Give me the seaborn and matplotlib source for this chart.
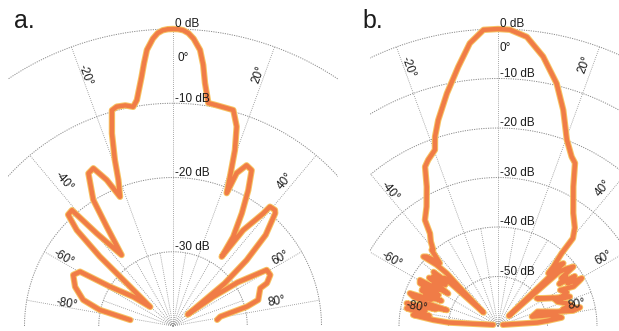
import numpy as np
import pandas as pd
import matplotlib
matplotlib.use("Agg")
import matplotlib.pyplot as plt
import seaborn as sns
from matplotlib.transforms import Bbox, TransformedBbox

# ─────────────────────────────────────────────
# DATA: (angle in degrees, level in dB)
# ─────────────────────────────────────────────
# panel a, from -80 deg round to +80 deg
a_left_lobes = [(-82, -34.2), (-77.6, -29.9), (-73.8, -27.4), (-68.2, -25.8), (-62.9, -24.9),
                (-59.7, -25.5), (-58, -30.0), (-53.6, -33.4), (-50, -36.0), (-47.3, -31.5),
                (-46.5, -26.4), (-45.1, -21.7), (-43.3, -19.4), (-41.1, -19.3), (-39.5, -23.8),
                (-35.9, -28.2), (-33.7, -23.9), (-32.3, -19.9), (-29, -16.5), (-26.8, -16.2),
                (-24.4, -18.4), (-22.3, -21.2)]
a_main_lobe = [(-20.5, -19.0), (-19.3, -16.3), (-17.6, -12.8), (-15.8, -9.8), (-14.4, -9.5),
               (-12.2, -9.6), (-10.3, -10.0), (-9.1, -9.2), (-7.2, -6.2), (-6.3, -4.4),
               (-5.4, -2.65), (-4.0, -1.2), (-3.0, -0.5), (-2.0, -0.15), (-1.0, -0.02), (0, 0),
               (1.0, -0.02), (2.0, -0.15), (3.0, -0.5), (4.1, -1.2), (5.6, -2.65),
               (6.6, -4.6), (7.5, -7.0), (9.0, -9.6), (11.2, -9.7), (15.6, -9.8),
               (17.7, -11.8), (19.4, -14.9), (20.9, -18.5), (22.0, -20.7)]
a_right_lobes = [(22.6, -17.7), (24.6, -16.2), (26.8, -16.5), (29.0, -19.1), (31.4, -22.2),
                 (34.0, -25.5), (35.1, -28.6), (36.2, -24.0), (38.7, -20.6), (39.1, -19.3),
                 (41.3, -19.2), (42.2, -19.5), (45.5, -22.5), (48.2, -26.7), (50.5, -31.0),
                 (52.0, -37.5), (54.0, -33.3), (56.0, -29.5), (59.1, -25.3), (62.3, -25.2),
                 (65.5, -26.1), (66.6, -27.2), (73.0, -28.0), (75.3, -29.7), (78.8, -33.5),
                 (82.0, -34.0)]

# panel b
b_left_noise = [(-76, -59), (-86, -50), (-84.7, -46.9), (-83.2, -44.1), (-82.6, -42.7),
                (-81.5, -46), (-80.5, -44), (-79, -41.2), (-78, -45), (-77.5, -43),
                (-76, -41), (-75, -47), (-74.5, -45), (-72.7, -49.2), (-72.3, -44.9),
                (-70.9, -41.9), (-69.6, -41), (-68.5, -45.5), (-67.5, -44), (-66, -47.5),
                (-65, -43), (-64.5, -45), (-63.5, -43), (-62.5, -46.5), (-61.3, -42),
                (-59.5, -41.7), (-58.5, -46), (-58, -44.5), (-57, -48), (-55.9, -45.9),
                (-55, -43), (-54, -45.5), (-53, -43.5), (-52, -46.5), (-51, -44),
                (-50, -43), (-49, -46.5), (-48, -45.5), (-47, -56), (-45, -50),
                (-44.2, -45.2), (-45.1, -42.5), (-47.1, -39.4), (-45.8, -39.9), (-42.8, -42.7)]
b_main_lobe = [(-41.1, -39.6), (-40.4, -39.8), (-38.5, -38.2), (-36.3, -36.8), (-34.6, -34.0),
               (-30.9, -31.9), (-27.1, -28.4), (-24.6, -24.6), (-22.8, -23.6), (-19.7, -22.2),
               (-18.4, -19.7), (-16.2, -16.7), (-12.4, -11.9), (-8.7, -7.0), (-5.7, -2.6),
               (-2.8, -0.1), (0, 0), (2.3, -0.1), (5.7, -1.3), (9.5, -4.8), (13.6, -9.6),
               (16.8, -14.4), (20.3, -19.9), (23.5, -22.7), (25.3, -23.6), (28.4, -28.0),
               (33.7, -32.6), (38, -34.8), (40.5, -36.7), (41.2, -40.5)]
b_right_noise = [(43, -43.6), (43.7, -45.3), (45, -42.5), (46.2, -41.7), (47, -57),
                 (48.5, -43.5), (50, -42), (51.8, -40.6), (53, -44), (54, -43),
                 (55.5, -45), (57, -41.5), (58.5, -43.5), (60.3, -40.5), (61, -41.2),
                 (62.4, -42.8), (60, -45.5), (64, -44.5), (66, -46.5), (67.8, -44.3),
                 (62, -48), (54.4, -50.4), (63, -47.5), (68, -47), (71.7, -45.4),
                 (74, -44.5), (75.5, -46.5), (77.2, -43), (78.5, -44.5), (76.3, -47.8),
                 (70, -51.5), (74.6, -52.9), (78, -49.5), (80, -48), (82.5, -47),
                 (84, -50), (85, -52), (76, -59)]

a_rings = [0, -10, -20, -30]
b_rings = [0, -10, -20, -30, -40, -50]
spoke_deg = list(range(-80, 90, 10))
a_spoke_reach = {0: 0, 20: 0, 40: -10, 60: -20, 80: -20}
b_spoke_reach = {0: 0, 20: 0, 40: -20, 60: -30, 80: -40}
angle_ticks = [0, -20, 20, -40, 40, -60, 60, -80, 80]

# where the angle labels sit (theta deg, dB)
a_tick_pos = [(2.1, -3.9), (-19.3, -4.2), (18.8, -4.3), (-37.2, -15.6), (37.8, -15.4),
              (-58.3, -22.6), (57.7, -22.9), (-78, -25.4), (76.8, -25.7)]
b_tick_pos = [(1.4, -3.9), (-19.1, -4.6), (18.4, -4.4), (-38.8, -25.2), (37.4, -25.0),
              (-58.2, -34.7), (57.3, -34.7), (-76.6, -43.1), (75, -43.6)]

# ─────────────────────────────────────────────
# STYLE
# ─────────────────────────────────────────────
W, H = 619, 331
sns.set_theme(style="white")
plt.rcParams["font.family"] = ["Liberation Sans", "DejaVu Sans"]
GRID = "#8a8a8a"
TXT = "#1c1c1c"
HALO = "#f7c463"
CORE = "#f07444"

fig = plt.figure(figsize=(W / 100, H / 100), dpi=100)


def place(ax, cx, cy, R, rmin):
    # pole at pixel (cx, cy), 0 dB ring at radius R pixels
    ax.set_position([(cx - R) / W, (cy - R) / H, 2 * R / W, 2 * R / H])
    for _ in range(2):
        fig.canvas.draw()
        c = ax.transData.transform((0, rmin))
        top = ax.transData.transform((0, 0))
        s = R / (top[1] - c[1])
        pos = ax.get_position()
        fx = (c[0] / W - pos.x0) / pos.width
        fy = (c[1] / H - pos.y0) / pos.height
        w, h = pos.width * s, pos.height * s
        ax.set_position([cx / W - fx * w, cy / H - fy * h, w, h])


def panel(segments, rings, reach, tick_pos, rmin, cx, clip_x, letter, letter_x):
    ax = fig.add_axes([0, 0, 1, 1], projection="polar")
    ax.set_theta_zero_location("N")
    ax.set_theta_direction(-1)
    ax.set_thetamin(-90)
    ax.set_thetamax(90)

    # grid rings and spokes
    arc = np.radians(np.linspace(-90, 90, 361))
    for r in rings:
        ax.plot(arc, np.full_like(arc, r), color=GRID, lw=0.7, ls=(0, (1.2, 1.2)))
    inner = rings[-1] if rmin == -40 else rings[-2]
    for d in spoke_deg:
        r_end = reach.get(abs(d), inner)
        ax.plot([np.radians(d)] * 2, [rmin, r_end], color=GRID, lw=0.6, ls=(0, (1, 1.5)))

    pts = [p for seg in segments for p in seg]
    df = pd.DataFrame(pts, columns=["deg", "dB"])
    df["theta"] = np.radians(df["deg"])
    sns.lineplot(data=df, x="theta", y="dB", sort=False, estimator=None, ax=ax,
                 color=HALO, lw=4.6, solid_joinstyle="round", solid_capstyle="round")
    sns.lineplot(data=df, x="theta", y="dB", sort=False, estimator=None, ax=ax,
                 color=CORE, lw=3.2, alpha=0.9, solid_joinstyle="round",
                 solid_capstyle="round")
    ax.set_xlabel("")
    ax.set_ylabel("")

    ax.set_ylim(rmin, 0)
    ax.set_rorigin(rmin)
    ax.grid(False)
    ax.set_xticks([])
    ax.set_yticks([])
    ax.set_axis_off()

    for r in rings:
        ax.annotate(f"{r} dB", xy=(0, r), xytext=(1.5, 1.2), textcoords="offset points",
                    ha="left", va="baseline", fontsize=8.5, color=TXT,
                    annotation_clip=False)
    for ang, (th, r) in zip(angle_ticks, tick_pos):
        rot = 0 if ang == 0 else (90 - ang if ang > 0 else -(90 + ang))
        ax.text(np.radians(th), r, f"{ang}°", rotation=rot, ha="center", va="center",
                rotation_mode="anchor", fontsize=8.5, color=TXT)

    place(ax, cx, H - 326, 297, rmin)

    bb = TransformedBbox(Bbox.from_extents(clip_x[0] / W, 0, clip_x[1] / W, 1),
                         fig.transFigure)
    for art in ax.lines:
        art.set_clip_path(None)
        art.set_clip_box(bb)
        art.set_clip_on(True)

    fig.text(letter_x / W, 1 - 28 / H, letter, fontsize=18, color=TXT, va="baseline")
    return ax


panel([a_left_lobes, a_main_lobe, a_right_lobes], a_rings, a_spoke_reach, a_tick_pos,
      -40, 173, (8, 338), "a.", 14)
panel([b_left_noise, b_main_lobe, b_right_noise], b_rings, b_spoke_reach, b_tick_pos,
      -60, 498, (370, 619), "b.", 362)

fig.savefig("out.png", dpi=100)
